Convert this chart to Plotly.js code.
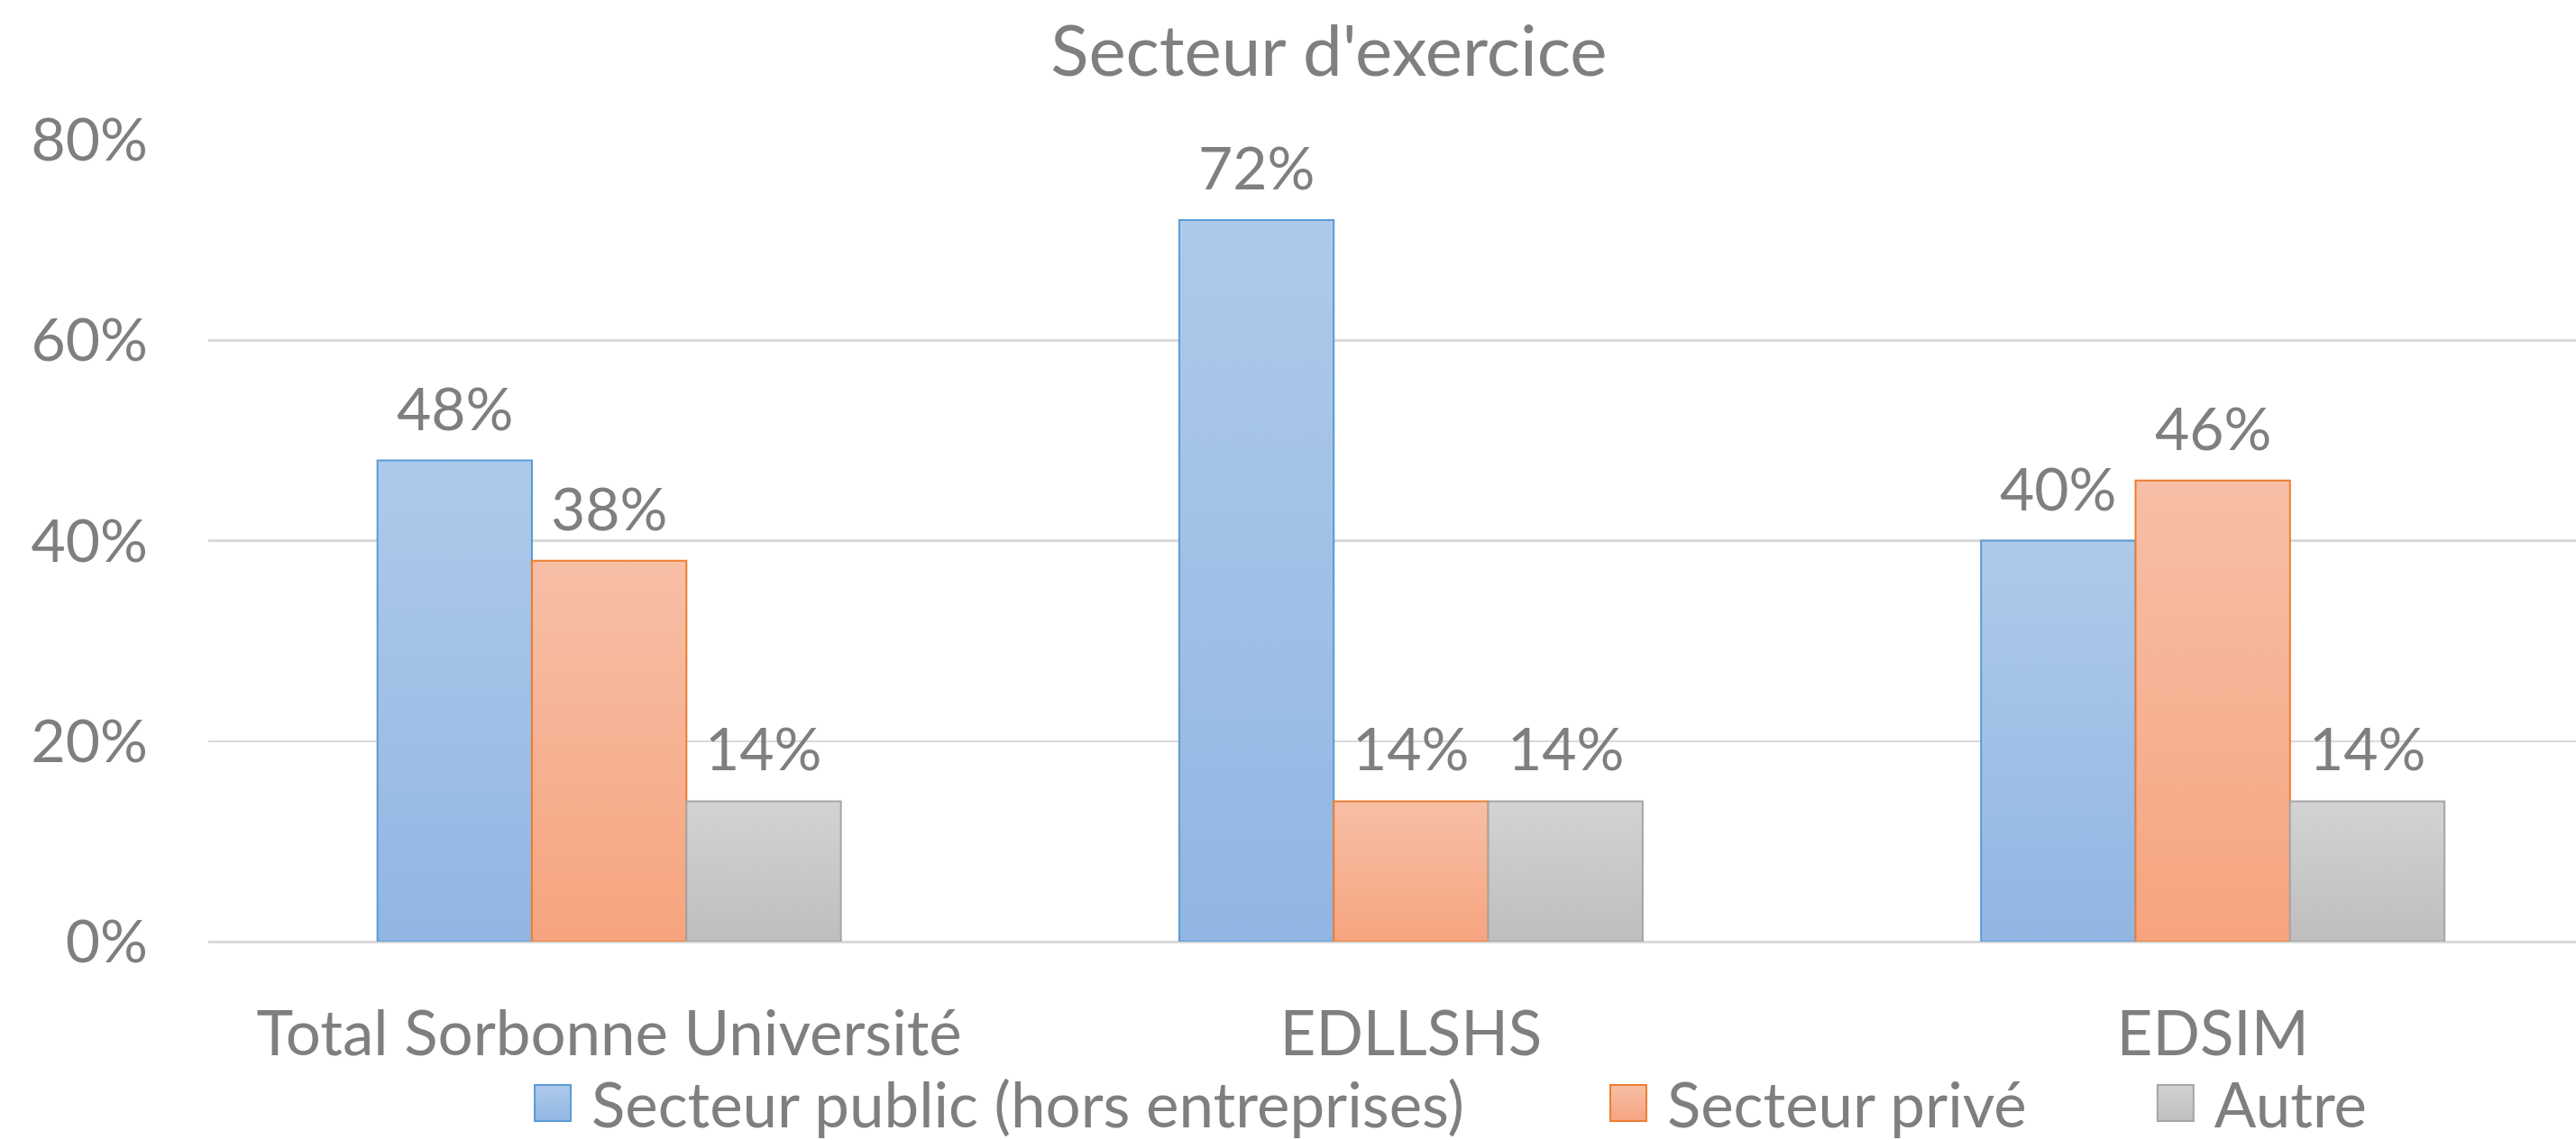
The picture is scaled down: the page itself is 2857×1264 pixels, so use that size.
<!DOCTYPE html>
<html>
<head>
<meta charset="utf-8">
<script src="https://cdn.plot.ly/plotly-3.0.1.min.js"></script>
<style>
  html, body { margin: 0; padding: 0; background: #ffffff; }
  #chart { width: 2857px; height: 1264px; }
</style>
</head>
<body>
<div id="chart"></div>
<script>
// ---- data ----
const categories = ['Total Sorbonne Université', 'EDLLSHS', 'EDSIM'];
const seriesNames = ['Secteur public (hors entreprises)', 'Secteur privé', 'Autre'];
const publicValues = [0.48, 0.72, 0.40];
const priveValues = [0.38, 0.14, 0.46];
const autreValues = [0.14, 0.14, 0.14];
const yTickValues = [0, 0.2, 0.4, 0.6, 0.8];
const yTickLabels = ['0%', '20%', '40%', '60%', '80%'];

// ---- styles ----
const FONT = 'Lato, "Open Sans", "Noto Sans", sans-serif';
const TXT = '#7f7f7f';
const FS_NUM = 66;
const FS_TXT = 69;
const fillColors = ['#a0c0e7', '#f6b294', '#c8c8c8'];
const lineColors = ['#5b9bd5', '#ed7d31', '#a5a5a5'];
const gradStops = [['#aecaea', '#91b6e3'], ['#f7bfa6', '#f6a47f'], ['#d3d3d3', '#bebebe']];
const bargap = 0.422;
const seriesValues = [publicValues, priveValues, autreValues];
const legendIds = ['legend', 'legend2', 'legend3'];

const traces = seriesValues.map((vals, s) => ({
  type: 'bar',
  name: seriesNames[s],
  x: categories,
  y: vals,
  legend: legendIds[s],
  marker: { color: fillColors[s], line: { color: lineColors[s], width: 2 } },
  hoverinfo: 'skip'
}));

// data labels placed via axis coordinates
const barw = (1 - bargap) / 3;
const annotations = [];
seriesValues.forEach((vals, s) => {
  vals.forEach((v, i) => {
    annotations.push({
      x: i + (s - 1) * barw, y: v, xref: 'x', yref: 'y',
      text: Math.round(v * 100) + '%',
      showarrow: false, yanchor: 'bottom', xanchor: 'center', yshift: 18,
      font: { family: FONT, size: FS_NUM, color: TXT }
    });
  });
});

function legendDef(x) {
  return {
    orientation: 'h', x: x, xanchor: 'left', xref: 'paper',
    y: -0.2015, yanchor: 'middle', yref: 'paper',
    bgcolor: 'rgba(0,0,0,0)', borderwidth: 0,
    font: { family: FONT, size: FS_TXT, color: TXT }
  };
}

const layout = {
  width: 2857, height: 1264,
  margin: { l: 231, r: 0, t: 155, b: 220, pad: 0, autoexpand: false },
  paper_bgcolor: '#ffffff', plot_bgcolor: '#ffffff',
  font: { family: FONT, size: FS_NUM, color: TXT },
  title: {
    text: "Secteur d'exercice",
    font: { family: FONT, size: 78, color: TXT },
    x: 0.4733, xref: 'paper', xanchor: 'center',
    y: 0.955, yref: 'container', yanchor: 'middle'
  },
  barmode: 'group', bargap: bargap, bargroupgap: 0,
  showlegend: true,
  legend: legendDef(0.1466),
  legend2: legendDef(0.6009),
  legend3: legendDef(0.832),
  xaxis: {
    type: 'category', range: [-0.5, 2.453], fixedrange: true, automargin: false,
    showgrid: false, zeroline: false, showline: false, ticks: '',
    ticklabelstandoff: 56,
    tickfont: { family: FONT, size: FS_TXT, color: TXT }
  },
  yaxis: {
    range: [0, 0.8], fixedrange: true, automargin: false,
    tickvals: yTickValues, ticktext: yTickLabels,
    showgrid: true, gridcolor: '#d9d9d9', gridwidth: 2.5,
    zeroline: true, zerolinecolor: '#d9d9d9', zerolinewidth: 3,
    showline: false, ticks: '', ticklabelstandoff: 66,
    tickfont: { family: FONT, size: FS_NUM, color: TXT }
  },
  annotations: annotations
};

const gd = document.getElementById('chart');
const ns = 'http://www.w3.org/2000/svg';

function ensureGradients() {
  const svg = gd.querySelector('svg.main-svg');
  if (!svg) return;
  let defs = svg.querySelector('defs');
  if (!defs) { defs = document.createElementNS(ns, 'defs'); svg.insertBefore(defs, svg.firstChild); }
  gradStops.forEach((st, k) => {
    if (document.getElementById('bargrad' + k)) return;
    const g = document.createElementNS(ns, 'linearGradient');
    g.setAttribute('id', 'bargrad' + k);
    g.setAttribute('x1', '0'); g.setAttribute('y1', '0');
    g.setAttribute('x2', '0'); g.setAttribute('y2', '1');
    [[0, st[0]], [1, st[1]]].forEach(([o, c]) => {
      const s = document.createElementNS(ns, 'stop');
      s.setAttribute('offset', o); s.setAttribute('stop-color', c);
      g.appendChild(s);
    });
    defs.appendChild(g);
  });
}

function restyleBars() {
  gd.querySelectorAll('.barlayer .trace').forEach((tr, k) => {
    tr.querySelectorAll('path').forEach(p => { p.style.fill = 'url(#bargrad' + k + ')'; });
  });
}

function restyleLegendSwatches() {
  const svg = gd.querySelector('svg.main-svg');
  if (!svg) return;
  gd.querySelectorAll('g.scrollbox').forEach(sb => sb.removeAttribute('clip-path'));
  gd.querySelectorAll('g.traces').forEach(item => {
    const t = item.querySelector('text.legendtext') || item.querySelector('text');
    if (!t) return;
    const k = seriesNames.indexOf(t.textContent.trim());
    const tb = t.getBoundingClientRect();
    if (tb.width === 0) return;
    item.querySelectorAll('.legendpoints path').forEach(p => {
      let bb;
      try { bb = p.getBBox(); } catch (e) { return; }
      if (!bb || bb.width === 0) return;
      const m = p.getScreenCTM();
      if (!m) return;
      const pt = svg.createSVGPoint();
      pt.x = tb.left - 23; pt.y = 0;
      const lp = pt.matrixTransform(m.inverse());
      const r = lp.x;
      p.setAttribute('d', 'M' + r + ',20H' + (r - 40) + 'V-20H' + r + 'Z');
      if (k >= 0) p.style.fill = 'url(#bargrad' + k + ')';
    });
  });
}

function decorate() {
  ensureGradients();
  restyleBars();
  restyleLegendSwatches();
}

Plotly.newPlot(gd, traces, layout, { staticPlot: true, displayModeBar: false }).then(() => {
  decorate();
});
</script>
</body>
</html>
